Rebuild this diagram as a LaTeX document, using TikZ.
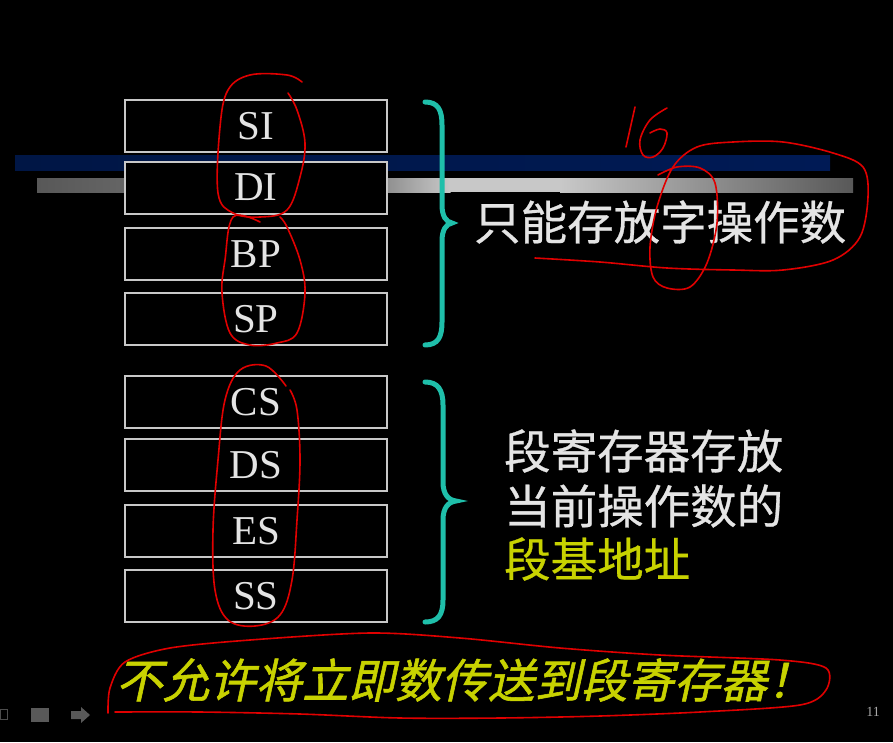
\documentclass[tikz,border=0pt]{standalone}
\usepackage{fontspec}
\setmainfont{Liberation Serif}
\newfontfamily\cjk[FakeBold=0.6]{Noto Sans CJK SC}
\newfontfamily\cjkit[FakeSlant=0.22,FakeBold=1.2]{Noto Sans CJK SC}
\definecolor{boxgray}{HTML}{C8C8C8}
\definecolor{txtgray}{HTML}{E4E4E4}
\definecolor{teal2}{HTML}{1FBFAA}
\definecolor{yel}{HTML}{C8D200}
\definecolor{pen}{HTML}{E00000}
\definecolor{navyA}{HTML}{001645}
\definecolor{navyB}{HTML}{001A55}
\definecolor{barDark}{HTML}{585858}
\definecolor{barMid}{HTML}{8A8A8A}
\definecolor{barLight}{HTML}{C8C8C8}
\tikzset{
  reg/.style={draw=boxgray, line width=2pt, fill=black, minimum width=262pt, minimum height=52pt, inner sep=0pt,
    text=txtgray, font=\fontsize{41}{41}\selectfont},
  bracepath/.style={draw=teal2, line width=5pt, line cap=round},
  redpen/.style={draw=pen, line width=1.6pt, line cap=round, line join=round},
  cjktxt/.style={anchor=west, inner sep=0pt, font=\cjk\fontsize{46.5}{46.5}\selectfont},
}
\begin{document}
\begin{tikzpicture}[x=1pt,y=-1pt]
\fill[black] (0,0) rectangle (893,742);
\useasboundingbox (0,0) rectangle (893,742);
% bars
\shade[left color=navyA, right color=navyB] (15,155) rectangle (830,170);
\shade[left color=barDark, right color=barMid] (37,178) rectangle (380.5,192);
\shade[left color=barMid, right color=barLight] (380,178) rectangle (450.5,192);
\fill[barLight] (450,178) rectangle (560.5,192);
\shade[left color=barLight, right color=barDark] (560,178) rectangle (853,192);
% register boxes
\node[reg] (si) at (256,126) {SI};
\node[reg] (di) at (256,187.5) {DI};
\node[reg] (bp) at (256,254) {BP};
\node[reg] (sp) at (256,319) {SP};
\node[reg] (cs) at (256,402) {CS};
\node[reg] (ds) at (256,465) {DS};
\node[reg] (es) at (256,531) {ES};
\node[reg] (ss) at (256,596) {SS};
% braces
\draw[bracepath] (425,102) .. controls (438,102) and (442,110) .. (442,125) -- (442,205)
  .. controls (442,216) and (446,222) .. (452,223) .. controls (446,224) and (442,230) .. (442,241)
  -- (442,322) .. controls (442,337) and (438,345) .. (425,345);
\draw[bracepath] (425,382) .. controls (438,382) and (443,390) .. (443,405) -- (443,482)
  .. controls (443,494) and (448,500) .. (456,501) .. controls (448,502) and (443,508) .. (443,520)
  -- (443,600) .. controls (443,615) and (438,622) .. (425,622);
% texts
\node[cjktxt, text=txtgray] (t1) at (474,222) {只能存放字操作数};
\node[cjktxt, text=txtgray] (t2) at (504,451) {段寄存器存放};
\node[cjktxt, text=txtgray] (t3) at (504,506) {当前操作数的};
\node[cjktxt, text=yel] (t4) at (504,559) {段基地址};
\node[anchor=west, inner sep=0pt, text=yel, font=\cjkit\fontsize{46.5}{46.5}\selectfont] (t5) at (116,680) {不允许将立即数传送到段寄存器！};
\node[text=black!35, inner sep=0pt, font=\fontsize{14}{14}\selectfont] (pg) at (873,712) {11};
% nav icons
\draw[black!70, line width=1pt] (0,709) rectangle (7,719);
\fill[black!65] (31,708) rectangle (49,722);
\fill[black!65] (71,711) -- (81,711) -- (81,707) -- (90,715) -- (81,723) -- (81,719) -- (71,719) -- cycle;
% red annotations
\draw[redpen] plot[smooth, tension=0.6] coordinates {(302,82) (287,75) (250,75) (228,90) (220,127) (218,193) (233,213) (260,217) (287,210) (300,177) (305,143) (297,110) (288,93)};
\draw[redpen] plot[smooth, tension=0.6] coordinates {(260,222) (233,217) (225,260) (222,293) (230,333) (250,345) (277,343) (297,333) (305,293) (300,260) (287,227) (280,217)};
\draw[redpen] plot[smooth, tension=0.6] coordinates {(286,386) (266,366) (240,370) (225,400) (218,460) (213,530) (215,590) (228,620) (255,626) (280,615) (292,580) (297,520) (300,460) (297,410) (290,390)};
\draw[redpen] (635,107) -- (626,147);
\draw[redpen] plot[smooth, tension=0.6] coordinates {(667,108) (650,120) (640,140) (643,155) (653,157) (663,148) (667,133) (660,129) (650,133)};
\draw[redpen] plot[smooth, tension=0.55] coordinates {(535,258) (600,262) (667,268) (733,270) (783,270) (833,260) (860,237) (868,197) (863,167) (833,153) (783,142) (733,142) (697,147) (673,167) (657,207) (650,247) (653,277) (667,288) (690,287) (707,263) (717,223) (715,183) (700,168) (677,167) (658,175)};
\draw[redpen] plot[smooth, tension=0.5] coordinates {(108,713) (110,688) (125,662) (170,648) (250,640) (370,633) (460,638) (560,648) (660,655) (780,660) (826,668) (826,690) (800,705) (700,712) (600,716) (500,718) (400,718) (300,714) (200,712) (115,712)};
\end{tikzpicture}
\end{document}
